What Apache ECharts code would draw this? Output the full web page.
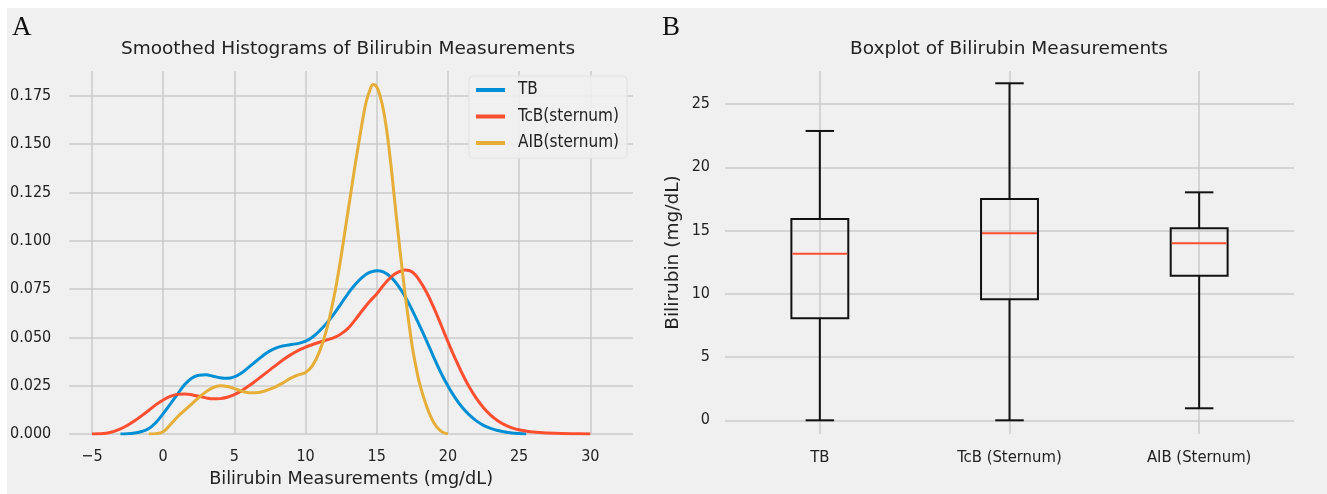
<!DOCTYPE html>
<html>
<head>
<meta charset="utf-8">
<script src="https://cdn.jsdelivr.net/npm/echarts@6/dist/echarts.min.js"></script>
<style>
  html, body { margin: 0; padding: 0; background: #ffffff; }
  #chart { position: absolute; left: 7px; top: 8px; width: 1320px; height: 486px; background: #f0f0f0; }
</style>
</head>
<body>
<div id="chart"></div>
<script>
// ---------- Panel A: smoothed histograms (KDE) ----------
const seriesNames = ['TB', 'TcB(sternum)', 'AIB(sternum)'];

const tbX = [-3,-2.5,-2,-1.5,-1,-0.5,0,0.5,1,1.5,2,2.5,3,3.5,4,4.5,5,5.5,6,6.5,7,7.5,8,8.5,9,9.5,10,10.5,11,11.5,12,12.5,13,13.5,14,14.5,15,15.5,16,16.5,17,17.5,18,18.5,19,19.5,20,20.5,21,21.5,22,22.5,23,23.5,24,24.5,25,25.5];
const tbY = [0,0.0001,0.0005,0.0013,0.0028,0.006,0.0105,0.0155,0.0205,0.0255,0.0289,0.0304,0.0306,0.0299,0.0291,0.0288,0.0296,0.0316,0.0345,0.0375,0.0405,0.043,0.0447,0.0457,0.0463,0.0469,0.048,0.0502,0.0535,0.0575,0.0622,0.0675,0.0728,0.0775,0.0812,0.0836,0.0845,0.0838,0.0812,0.0768,0.071,0.064,0.0562,0.0482,0.0398,0.0318,0.0248,0.0188,0.0138,0.0099,0.0068,0.0045,0.0029,0.0018,0.001,0.0005,0.0002,0];

const tcbX = [-5,-4.5,-4,-3.5,-3,-2.5,-2,-1.5,-1,-0.5,0,0.5,1,1.5,2,2.5,3,3.5,4,4.5,5,5.5,6,6.5,7,7.5,8,8.5,9,9.5,10,10.5,11,11.5,12,12.5,13,13.5,14,14.5,15,15.5,16,16.5,17,17.5,18,18.5,19,19.5,20,20.5,21,21.5,22,22.5,23,23.5,24,24.5,25,25.5,26,27,28,29,30];
const tcbY = [0,0.0001,0.0004,0.0012,0.0026,0.0045,0.0068,0.0095,0.0123,0.0152,0.0176,0.0195,0.0205,0.0207,0.0203,0.0195,0.0187,0.0182,0.0183,0.019,0.0204,0.0224,0.0248,0.0275,0.0303,0.0332,0.036,0.0388,0.0412,0.0433,0.0449,0.0463,0.0475,0.0487,0.0499,0.0518,0.0548,0.0592,0.064,0.0685,0.0725,0.0772,0.0812,0.0837,0.0848,0.0838,0.0795,0.0733,0.0655,0.0568,0.0478,0.0392,0.0313,0.0243,0.0184,0.0136,0.0098,0.0069,0.0047,0.0032,0.0022,0.0015,0.001,0.0005,0.0002,0.0001,0];

const aibX = [-1,-0.5,0,0.5,1,1.5,2,2.5,3,3.5,4,4.5,5,5.5,6,6.5,7,7.5,8,8.5,9,9.5,10,10.5,11,11.5,12,12.25,12.5,12.75,13,13.25,13.5,13.75,14,14.25,14.5,14.75,15,15.25,15.5,15.75,16,16.25,16.5,16.75,17,17.25,17.5,17.75,18,18.5,19,19.5,20];
const aibY = [0,0.0002,0.0012,0.0048,0.0088,0.0122,0.0155,0.0188,0.0218,0.024,0.0249,0.0246,0.0235,0.0222,0.0214,0.0213,0.0219,0.0232,0.0248,0.0268,0.029,0.0306,0.0318,0.0355,0.043,0.0545,0.071,0.081,0.092,0.104,0.116,0.128,0.14,0.151,0.162,0.1715,0.1775,0.1808,0.1795,0.1745,0.1665,0.1545,0.139,0.1215,0.104,0.0875,0.072,0.058,0.045,0.035,0.0265,0.0145,0.006,0.0015,0];

const kdeXTicks = [-5, 0, 5, 10, 15, 20, 25, 30];
const kdeYTicks = [0, 0.025, 0.05, 0.075, 0.1, 0.125, 0.15, 0.175];

// ---------- Panel B: boxplot ----------
const boxLabels = ['TB', 'TcB (Sternum)', 'AIB (Sternum)'];
const boxMin    = [0, 0, 0.95];
const boxQ1     = [8.06, 9.56, 11.43];
const boxMedian = [13.17, 14.78, 13.99];
const boxQ3     = [15.92, 17.49, 15.18];
const boxMax    = [22.87, 26.64, 18.02];
const boxYTicks = [0, 5, 10, 15, 20, 25];

const colors = ['#008fd5', '#fc4f30', '#e5ae38'];
const TICKFONT = "'DejaVu Sans Condensed', 'DejaVu Sans', sans-serif";
const FONT = "'DejaVu Sans', sans-serif";
const gridLine = { show: true, lineStyle: { color: '#cbcbcb', width: 1.5 } };

function pairs(xs, ys) { return xs.map((x, i) => [x, ys[i]]); }

const boxData = boxLabels.map((_, i) => [i + 1, boxMin[i], boxQ1[i], boxMedian[i], boxQ3[i], boxMax[i]]);

const chart = echarts.init(document.getElementById('chart'), null, { renderer: 'canvas' });

const option = {
  backgroundColor: '#f0f0f0',
  animation: false,
  textStyle: { fontFamily: FONT },
  title: [
    { text: 'Smoothed Histograms of Bilirubin Measurements', left: 341, top: 32, textAlign: 'center', padding: 0,
      textStyle: { fontFamily: FONT, fontSize: 18.5, fontWeight: 'normal', color: '#222' } },
    { text: 'Boxplot of Bilirubin Measurements', left: 1002, top: 32, textAlign: 'center', padding: 0,
      textStyle: { fontFamily: FONT, fontSize: 18.5, fontWeight: 'normal', color: '#222' } }
  ],
  graphic: [
    { type: 'text', left: 5, top: 6, style: { text: 'A', fontFamily: "'Liberation Serif', serif", fontSize: 27, fill: '#111' } },
    { type: 'text', left: 655, top: 6, style: { text: 'B', fontFamily: "'Liberation Serif', serif", fontSize: 27, fill: '#111' } }
  ],
  legend: {
    data: seriesNames,
    orient: 'vertical',
    left: 462, top: 68,
    padding: [5, 8, 6, 7],
    itemGap: 8.5,
    itemWidth: 29, itemHeight: 4,
    icon: 'rect',
    backgroundColor: 'rgba(240,240,240,0.9)',
    borderColor: '#e2e2e2', borderWidth: 1, borderRadius: 4,
    textStyle: { fontFamily: TICKFONT, fontSize: 17, color: '#222', lineHeight: 18, padding: [0, 0, 0, 8] }
  },
  grid: [
    { left: 56, top: 63, width: 570, height: 363 },
    { left: 718, top: 63, width: 569, height: 363 }
  ],
  xAxis: [
    { type: 'value', gridIndex: 0, min: -6.6, max: 33,
      axisLine: { show: false }, axisTick: { show: false, customValues: kdeXTicks },
      axisLabel: { customValues: kdeXTicks, margin: 15, fontFamily: TICKFONT, fontSize: 16, color: '#222',
        formatter: v => (v < 0 ? '\u2212' + Math.abs(v) : String(v)) },
      splitLine: gridLine,
      name: 'Bilirubin Measurements (mg/dL)', nameLocation: 'middle', nameGap: 36,
      nameTextStyle: { fontFamily: FONT, fontSize: 17.7, color: '#222' } },
    { type: 'value', gridIndex: 1, min: 0.5, max: 3.5,
      axisLine: { show: false }, axisTick: { show: false, customValues: [1, 2, 3] },
      axisLabel: { customValues: [1, 2, 3], margin: 15, fontFamily: TICKFONT, fontSize: 16.5, color: '#222',
        formatter: v => boxLabels[Math.round(v) - 1] },
      splitLine: gridLine }
  ],
  yAxis: [
    { type: 'value', gridIndex: 0, min: 0, max: 0.1878,
      axisLine: { show: false }, axisTick: { show: false, customValues: kdeYTicks },
      axisLabel: { customValues: kdeYTicks, margin: 18, fontFamily: TICKFONT, fontSize: 16, color: '#222',
        formatter: v => v.toFixed(3) },
      splitLine: gridLine },
    { type: 'value', gridIndex: 1, min: -1.083, max: 27.61,
      axisLine: { show: false }, axisTick: { show: false, customValues: boxYTicks },
      axisLabel: { customValues: boxYTicks, margin: 15, fontFamily: TICKFONT, fontSize: 16, color: '#222' },
      splitLine: gridLine,
      name: 'Bilirubin (mg/dL)', nameLocation: 'middle', nameGap: 42,
      nameTextStyle: { fontFamily: FONT, fontSize: 18.5, color: '#222' } }
  ],
  series: [
    { name: seriesNames[0], type: 'line', xAxisIndex: 0, yAxisIndex: 0, data: pairs(tbX, tbY),
      showSymbol: false, smooth: 0.4, lineStyle: { color: colors[0], width: 3 }, itemStyle: { color: colors[0] }, z: 3 },
    { name: seriesNames[1], type: 'line', xAxisIndex: 0, yAxisIndex: 0, data: pairs(tcbX, tcbY),
      showSymbol: false, smooth: 0.4, lineStyle: { color: colors[1], width: 3 }, itemStyle: { color: colors[1] }, z: 4 },
    { name: seriesNames[2], type: 'line', xAxisIndex: 0, yAxisIndex: 0, data: pairs(aibX, aibY),
      showSymbol: false, smooth: 0.4, lineStyle: { color: colors[2], width: 3 }, itemStyle: { color: colors[2] }, z: 5 },
    { type: 'custom', xAxisIndex: 1, yAxisIndex: 1, data: boxData,
      renderItem: function (params, api) {
        const x = api.value(0);
        const pMin = api.coord([x, api.value(1)]);
        const pQ1 = api.coord([x, api.value(2)]);
        const pMed = api.coord([x, api.value(3)]);
        const pQ3 = api.coord([x, api.value(4)]);
        const pMax = api.coord([x, api.value(5)]);
        const bw = api.size([0.3, 0])[0];
        const cw = api.size([0.15, 0])[0];
        const cx = pMed[0];
        const stroke = { stroke: '#111', lineWidth: 2, fill: null };
        return {
          type: 'group',
          children: [
            { type: 'line', shape: { x1: cx, y1: pQ1[1], x2: cx, y2: pMin[1] }, style: stroke },
            { type: 'line', shape: { x1: cx, y1: pQ3[1], x2: cx, y2: pMax[1] }, style: stroke },
            { type: 'line', shape: { x1: cx - cw / 2, y1: pMin[1], x2: cx + cw / 2, y2: pMin[1] }, style: stroke },
            { type: 'line', shape: { x1: cx - cw / 2, y1: pMax[1], x2: cx + cw / 2, y2: pMax[1] }, style: stroke },
            { type: 'rect', shape: { x: cx - bw / 2, y: pQ3[1], width: bw, height: pQ1[1] - pQ3[1] },
              style: { stroke: '#111', lineWidth: 2, fill: 'rgba(0,0,0,0)' } },
            { type: 'line', shape: { x1: cx - bw / 2 + 1, y1: pMed[1], x2: cx + bw / 2 - 1, y2: pMed[1] },
              style: { stroke: '#fc4f30', lineWidth: 2 } }
          ]
        };
      },
      z: 3 }
  ]
};
chart.setOption(option);
</script>
</body>
</html>
